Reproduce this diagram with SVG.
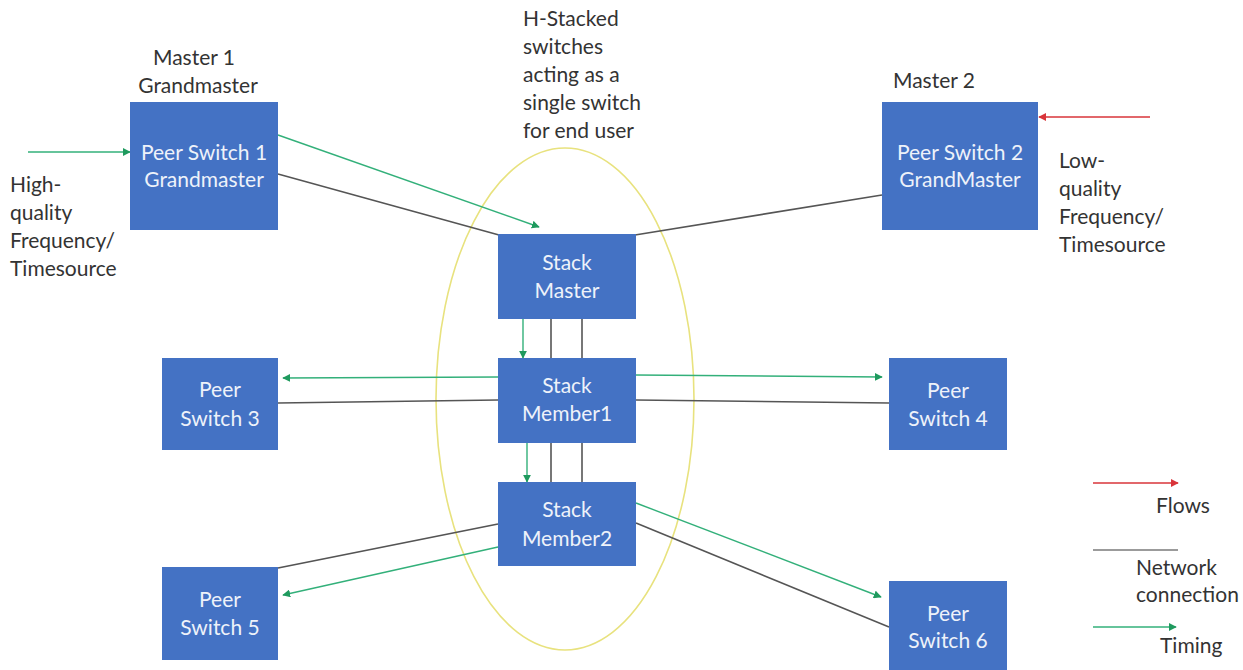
<svg xmlns="http://www.w3.org/2000/svg" width="1243" height="670" viewBox="0 0 1243 670">
  <style>
    .box { fill: #4472C4; }
    .in { font-family: Lato, "Open Sans", sans-serif; font-size: 21px; fill: #eef2fa; text-anchor: middle; }
    .out { font-family: Lato, "Open Sans", sans-serif; font-size: 21px; fill: #333333; }
    .net { stroke: #555555; stroke-width: 1.6; fill: none; }
    .tim { stroke: #33b07a; stroke-width: 1.4; fill: none; marker-end: url(#arG); }
    .flow { stroke: #d9343a; stroke-width: 1.4; fill: none; marker-end: url(#arR); }
  </style>
  <defs>
    <marker id="arG" viewBox="0 0 10 10" refX="9" refY="5" markerWidth="8" markerHeight="8" markerUnits="userSpaceOnUse" orient="auto">
      <path d="M0,0 L10,5 L0,10 z" fill="#1f9a5e"/>
    </marker>
    <marker id="arR" viewBox="0 0 10 10" refX="9" refY="5" markerWidth="8" markerHeight="8" markerUnits="userSpaceOnUse" orient="auto">
      <path d="M0,0 L10,5 L0,10 z" fill="#d9343a"/>
    </marker>
  </defs>
  <rect width="1243" height="670" fill="#ffffff"/>

  <!-- stack boundary -->
  <ellipse cx="565" cy="399" rx="129" ry="251" fill="none" stroke="#e8e27e" stroke-width="1.6"/>

  <g id="connectors">
    <!-- network links -->
    <line class="net" x1="278" y1="174" x2="499" y2="235"/>
    <line class="net" x1="635" y1="235" x2="882" y2="195"/>
    <line class="net" x1="551" y1="319" x2="551" y2="358"/>
    <line class="net" x1="582" y1="319" x2="582" y2="358"/>
    <line class="net" x1="551" y1="443" x2="551" y2="482"/>
    <line class="net" x1="582" y1="443" x2="582" y2="482"/>
    <line class="net" x1="498" y1="400" x2="278" y2="403"/>
    <line class="net" x1="636" y1="400" x2="889" y2="403"/>
    <line class="net" x1="498" y1="524" x2="278" y2="568"/>
    <line class="net" x1="636" y1="523" x2="889" y2="627"/>
    <!-- timing -->
    <line class="tim" x1="28" y1="152" x2="130" y2="152"/>
    <line class="tim" x1="278" y1="135" x2="539" y2="227"/>
    <line class="tim" x1="523" y1="319" x2="523" y2="358"/>
    <line class="tim" x1="527" y1="443" x2="527" y2="482"/>
    <line class="tim" x1="498" y1="377" x2="283" y2="378"/>
    <line class="tim" x1="636" y1="375" x2="882" y2="377"/>
    <line class="tim" x1="498" y1="547" x2="283" y2="595"/>
    <line class="tim" x1="636" y1="503" x2="881" y2="597"/>
    <!-- flows -->
    <line class="flow" x1="1150" y1="117" x2="1039" y2="117"/>
  </g>

  <g id="peer-switch-1">
    <rect class="box" x="130" y="102" width="148" height="128"/>
    <text class="in" x="204" y="160">Peer Switch 1</text>
    <text class="in" x="204" y="187">Grandmaster</text>
  </g>
  <g id="peer-switch-2">
    <rect class="box" x="882" y="102" width="156" height="128"/>
    <text class="in" x="960" y="160">Peer Switch 2</text>
    <text class="in" x="960" y="187">GrandMaster</text>
  </g>
  <g id="stack-master">
    <rect class="box" x="498" y="234" width="138" height="85"/>
    <text class="in" x="567" y="270">Stack</text>
    <text class="in" x="567" y="298">Master</text>
  </g>
  <g id="stack-member1">
    <rect class="box" x="498" y="358" width="138" height="85"/>
    <text class="in" x="567" y="393">Stack</text>
    <text class="in" x="567" y="421">Member1</text>
  </g>
  <g id="stack-member2">
    <rect class="box" x="498" y="482" width="138" height="84"/>
    <text class="in" x="567" y="517">Stack</text>
    <text class="in" x="567" y="546">Member2</text>
  </g>
  <g id="peer-switch-3">
    <rect class="box" x="162" y="358" width="116" height="92"/>
    <text class="in" x="220" y="397">Peer</text>
    <text class="in" x="220" y="426">Switch 3</text>
  </g>
  <g id="peer-switch-4">
    <rect class="box" x="889" y="358" width="118" height="92"/>
    <text class="in" x="948" y="398">Peer</text>
    <text class="in" x="948" y="426">Switch 4</text>
  </g>
  <g id="peer-switch-5">
    <rect class="box" x="162" y="567" width="116" height="93"/>
    <text class="in" x="220" y="607">Peer</text>
    <text class="in" x="220" y="635">Switch 5</text>
  </g>
  <g id="peer-switch-6">
    <rect class="box" x="889" y="581" width="118" height="93"/>
    <text class="in" x="948" y="621">Peer</text>
    <text class="in" x="948" y="648">Switch 6</text>
  </g>

  <g id="labels">
    <text class="out" x="194" y="65" text-anchor="middle">Master 1</text>
    <text class="out" x="198" y="93" text-anchor="middle">Grandmaster</text>
    <text class="out" x="893" y="88">Master 2</text>
    <text class="out" x="523">
      <tspan x="523" y="26">H-Stacked</tspan>
      <tspan x="523" y="54">switches</tspan>
      <tspan x="523" y="82">acting as a</tspan>
      <tspan x="523" y="110">single switch</tspan>
      <tspan x="523" y="138">for end user</tspan>
    </text>
    <text class="out">
      <tspan x="10" y="192">High-</tspan>
      <tspan x="10" y="220">quality</tspan>
      <tspan x="10" y="248">Frequency/</tspan>
      <tspan x="10" y="276">Timesource</tspan>
    </text>
    <text class="out">
      <tspan x="1059" y="168">Low-</tspan>
      <tspan x="1059" y="196">quality</tspan>
      <tspan x="1059" y="224">Frequency/</tspan>
      <tspan x="1059" y="252">Timesource</tspan>
    </text>
  </g>

  <g id="legend">
    <line class="flow" x1="1093" y1="483" x2="1178" y2="483"/>
    <text class="out" x="1156" y="513">Flows</text>
    <line x1="1093" y1="550" x2="1178" y2="550" stroke="#7a7a7a" stroke-width="1.6"/>
    <text class="out" x="1136" y="575">Network</text>
    <text class="out" x="1136" y="602">connection</text>
    <line class="tim" x1="1093" y1="627" x2="1176" y2="627" stroke="#6aa99a"/>
    <text class="out" x="1160" y="653">Timing</text>
  </g>
</svg>
